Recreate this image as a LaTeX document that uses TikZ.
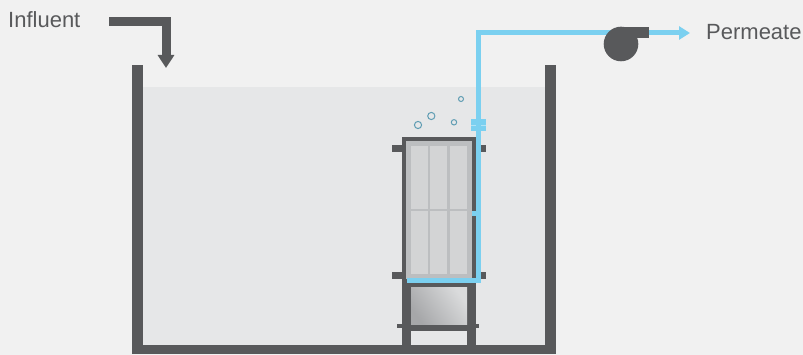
\documentclass[tikz,border=0pt]{standalone}
\usepackage{fontspec}
\setmainfont{Liberation Sans}
\usetikzlibrary{arrows.meta}
\definecolor{bggray}{HTML}{F1F1F1}
\definecolor{watergray}{HTML}{E6E7E8}
\definecolor{steelgray}{HTML}{58595B}
\definecolor{casegray}{HTML}{BCBEC0}
\definecolor{panelgray}{HTML}{D3D4D5}
\definecolor{shadedark}{HTML}{A6A7A9}
\definecolor{shadelight}{HTML}{DADBDC}
\definecolor{pipeblue}{HTML}{7BD0F0}
\definecolor{bubbleblue}{HTML}{5F9DB3}
\tikzset{
  steel/.style={fill=steelgray},
  influentpipe/.style={draw=steelgray, line width=9pt, -{Triangle[length=13pt,width=16pt]}},
  permeatepipe/.style={draw=pipeblue, line width=5pt, -{Triangle[length=11pt,width=13pt]}},
  bubble/.style={draw=bubbleblue, line width=1pt},
  label/.style={font=\fontsize{22}{24}\selectfont, text=steelgray, inner sep=0pt}
}
\begin{document}
\begin{tikzpicture}[x=1pt,y=-1pt]
  % Background
  \fill[bggray] (0,0) rectangle (803,355);
  \useasboundingbox (0,0) rectangle (803,355);
  % Water
  \fill[watergray] (143,87) rectangle (545,345);
  % Tank
  \fill[steel] (132,65) rectangle (143,354);
  \fill[steel] (545,65) rectangle (556,354);
  \fill[steel] (132,345) rectangle (556,354);
  % Influent
  \coordinate (infeed) at (109,21.5);
  \coordinate (intip) at (166,68);
  \draw[influentpipe] (infeed) -| (intip);
  \node[label, anchor=base west] (influent) at (8,28) {Influent};
  % Stand
  \fill[steel] (402,283) rectangle (411,345);
  \fill[steel] (467,283) rectangle (476,345);
  \fill[steel] (402,279) rectangle (476,288);
  \fill[steel] (397,324) rectangle (479,328);
  \fill[steel] (411,324) rectangle (467,331);
  \shade[y=1pt, bottom color=shadedark, top color=shadelight, shading angle=-55] (411,-324) rectangle (467,-288);
  % Ears
  \fill[steel] (392,145) rectangle (486,152);
  \fill[steel] (392,272) rectangle (486,279);
  % Module
  \fill[steel] (402,137) rectangle (476,283);
  \fill[casegray] (406,141) rectangle (472,279);
  % Panels
  \foreach \xa/\xb in {411/428,430/447,450/467}{
    \fill[panelgray] (\xa,146) rectangle (\xb,209);
    \fill[panelgray] (\xa,211) rectangle (\xb,274);
  }
  % Permeate line
  \coordinate (pipestart) at (407,281);
  \coordinate (pipecorner) at (478.5,281);
  \coordinate (pipetop) at (478.5,33);
  \coordinate (pipetip) at (690,33);
  \draw[permeatepipe] (pipestart) -- (pipecorner) -- (pipetop) -- (pipetip);
  \fill[pipeblue] (472,211) rectangle (476,216);
  % Coupling
  \fill[pipeblue] (471,119) rectangle (486,131);
  \draw[white!40!pipeblue, line width=0.5pt] (471,125) -- (476,125);
  \draw[white!40!pipeblue, line width=0.5pt] (481,125) -- (486,125);
  % Pump
  \fill[steel] (621,44) circle (17.3pt);
  \fill[steel] (621,27) rectangle (649,38);
  \node[label, anchor=base west] (permeate) at (706,40) {Permeate};
  % Bubbles
  \draw[bubble] (418,125) circle (3.6pt);
  \draw[bubble] (431.3,116) circle (3.6pt);
  \draw[bubble] (454,122.3) circle (2.7pt);
  \draw[bubble] (461,99) circle (2.5pt);
\end{tikzpicture}
\end{document}
